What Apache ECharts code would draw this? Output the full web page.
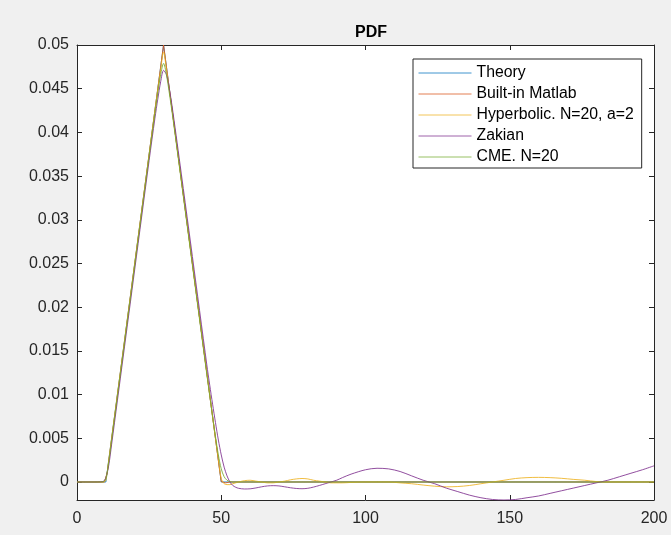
<!DOCTYPE html>
<html><head><meta charset="utf-8">
<script src="https://cdn.jsdelivr.net/npm/echarts@6/dist/echarts.min.js"></script>
<style>html,body{margin:0;padding:0;background:#f0f0f0}#c{width:671px;height:535px}</style>
</head><body><div id="c"></div>
<script>
const titleText = 'PDF';
const seriesNames = ['Theory', 'Built-in Matlab', 'Hyperbolic. N=20, a=2', 'Zakian', 'CME. N=20'];
const seriesColors = ['#0072BD', '#D95319', '#EDB120', '#7E2F8E', '#77AC30'];
const xTicks = [0, 50, 100, 150, 200];
const yTicks = [0, 0.005, 0.01, 0.015, 0.02, 0.025, 0.03, 0.035, 0.04, 0.045, 0.05];
const xRange = [0, 200];
const yRange = [-0.00206, 0.05];

const tTheory = [0, 10, 30, 50, 200];
const yTheory = [0, 0, 0.05, 0, 0];

const tBuiltin = [0, 9.5, 10, 10.5, 30, 49.5, 50, 50.5, 51.5, 53, 200];
const yBuiltin = [0, 0, -0.00008, 0.0011, 0.05, 0.0012, 0.00005, -0.00015, -0.0001, 0, 0];

const tGrid = [0,5,9,10,11,12,14,16,20,25,27,28,29,30,31,32,33,35,40,45,46,47,48,49,50,51,52,53,54,55,56,58,60,62,64,66,68,70,72,74,76,78,80,82,84,86,88,90,92,95,100,104,108,112,116,120,124,128,132,136,140,144,148,152,156,160,164,168,172,176,180,184,188,192,196,200];

const yHyper = [0,0,0,0.0002,0.0025,0.005,0.01,0.015,0.025,0.0375,0.0425,0.0449,0.0472,0.0492,0.0472,0.0449,0.0425,0.0375,0.025,0.0125,0.01,0.0075,0.005,0.0026,0.0004,-0.0002,-0.0003,-0.0003,-0.0002,-0.0001,0,0.00015,0.0002,0.0001,0,-0.0001,-0.0001,0,0.0001,0.00025,0.00035,0.0004,0.00035,0.0002,0.0001,0,-0.0001,-0.0001,-0.0001,-0.00005,0,0,0,-0.0001,-0.0002,-0.00035,-0.00048,-0.00055,-0.00052,-0.0004,-0.0002,0,0.0002,0.0004,0.0005,0.00053,0.0005,0.00042,0.0003,0.0002,0.00005,0,0,0,0,0];

const yZakian = [0,0,0.00005,0.0005,0.0019,0.0043,0.0093,0.0143,0.0243,0.0368,0.0416,0.0438,0.0458,0.0471,0.0466,0.045,0.0429,0.0381,0.0258,0.0134,0.0111,0.0089,0.0068,0.0048,0.0031,0.0017,0.0007,0,-0.0004,-0.0006,-0.00072,-0.0008,-0.00078,-0.00068,-0.00055,-0.00045,-0.00042,-0.00045,-0.00055,-0.00066,-0.00074,-0.00077,-0.00072,-0.00058,-0.0004,-0.0002,0,0.0002,0.0005,0.0009,0.0014,0.00157,0.0015,0.0012,0.0007,0.0002,-0.0002,-0.0007,-0.0011,-0.0015,-0.0018,-0.002,-0.00206,-0.002,-0.0018,-0.0016,-0.0013,-0.001,-0.0007,-0.0004,-0.0001,0.0002,0.0006,0.001,0.0014,0.00185];

const yCME = [0,0,0.00002,0.0004,0.0023,0.0048,0.0098,0.0148,0.0248,0.0373,0.0422,0.0445,0.0466,0.0479,0.0466,0.0445,0.0422,0.0373,0.0248,0.0123,0.0099,0.0075,0.0052,0.0031,0.0015,0.0006,0.0002,0.00005,0,0,0,0,0,0,0,0,0,0,0,0,0,0,0,0,0,0,0,0,0,0,0,0,0,0,0,0,0,0,0,0,0,0,0,0,0,0,0,0,0,0,0,0,0,0,0,0];

const zip = (xs, ys) => xs.map((x, i) => [x, ys[i]]);
const dataSets = [zip(tTheory, yTheory), zip(tBuiltin, yBuiltin), zip(tGrid, yHyper), zip(tGrid, yZakian), zip(tGrid, yCME)];
const smoothFlags = [false, false, 0.3, 0.3, 0.3];

const axisColor = '#262626';
const font = 'Liberation Sans, Arial, sans-serif';

const chart = echarts.init(document.getElementById('c'), null, {renderer: 'canvas'});
const commonTick = {show: true, inside: true, length: 5, lineStyle: {color: axisColor, width: 1}};
const commonLine = {show: true, onZero: false, lineStyle: {color: axisColor, width: 1}};

chart.setOption({
  backgroundColor: '#f0f0f0',
  animation: false,
  title: {
    text: titleText, left: 366, top: 20, textAlign: 'center',
    textStyle: {fontFamily: font, fontSize: 16, fontWeight: 'bold', color: '#000'}
  },
  legend: {
    orient: 'vertical', left: 413, top: 59,
    data: seriesNames,
    backgroundColor: '#fff', borderColor: axisColor, borderWidth: 1, borderRadius: 0,
    padding: [6, 8, 3, 5],
    itemWidth: 53, itemHeight: 14, itemGap: 5,
    itemStyle: {opacity: 0},
    lineStyle: {width: 1, opacity: 0.75},
    textStyle: {fontFamily: font, fontSize: 15.8, color: '#000'}
  },
  grid: {left: 77, right: 17, top: 45, bottom: 35, show: true, backgroundColor: '#fff', borderWidth: 0, containLabel: false},
  xAxis: [
    {type: 'value', min: xRange[0], max: xRange[1], position: 'bottom',
     axisLine: commonLine, axisTick: Object.assign({customValues: xTicks}, commonTick),
     axisLabel: {customValues: xTicks, fontFamily: font, fontSize: 16, color: axisColor, margin: 11},
     splitLine: {show: false}},
    {type: 'value', min: xRange[0], max: xRange[1], position: 'top',
     axisLine: commonLine, axisTick: Object.assign({customValues: xTicks}, commonTick),
     axisLabel: {show: false}, splitLine: {show: false}}
  ],
  yAxis: [
    {type: 'value', min: yRange[0], max: yRange[1], position: 'left',
     axisLine: commonLine, axisTick: Object.assign({customValues: yTicks}, commonTick),
     axisLabel: {customValues: yTicks, fontFamily: font, fontSize: 16, color: axisColor, margin: 8,
       formatter: v => String(+(+v).toFixed(4))},
     splitLine: {show: false}},
    {type: 'value', min: yRange[0], max: yRange[1], position: 'right',
     axisLine: commonLine, axisTick: Object.assign({customValues: yTicks}, commonTick),
     axisLabel: {show: false}, splitLine: {show: false}}
  ],
  series: seriesNames.map((name, i) => ({
    name, type: 'line', data: dataSets[i], xAxisIndex: 0, yAxisIndex: 0,
    symbol: 'none', showSymbol: false, smooth: smoothFlags[i],
    color: seriesColors[i],
    lineStyle: {color: seriesColors[i], width: 1, opacity: 0.85},
    clip: true, z: 2 + i
  }))
});
</script>
</body></html>
